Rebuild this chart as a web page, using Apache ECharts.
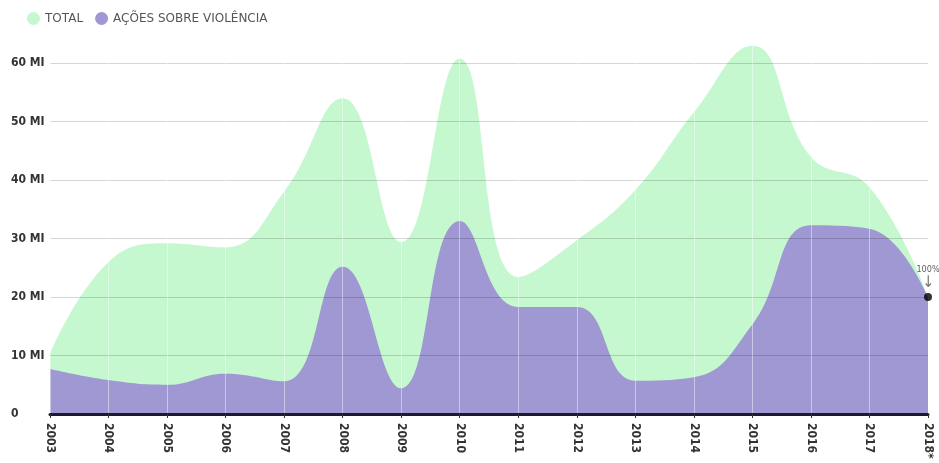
<!DOCTYPE html>
<html>
<head>
<meta charset="utf-8">
<script src="https://cdn.jsdelivr.net/npm/echarts@6/dist/echarts.min.js"></script>
<style>
  html, body { margin: 0; padding: 0; background: #fff; }
  #chart { width: 939px; height: 463px; }
</style>
</head>
<body>
<div id="chart"></div>
<script>
  // anos
  var years = ['2003', '2004', '2005', '2006', '2007', '2008', '2009', '2010',
    '2011', '2012', '2013', '2014', '2015', '2016', '2017', '2018*'];
  // valores em milhões
  var totalValues = [10.3, 26, 29.2, 28.5, 38, 54, 29.4, 60.8,
    23.4, 29.7, 38.3, 51.6, 63, 44, 38.8, 20];
  var violenciaValues = [7.7, 5.8, 5, 6.9, 5.6, 25.2, 4.4, 33,
    18.3, 18.3, 5.7, 6.3, 15.3, 32.3, 31.7, 20];
  var yTicks = [0, 10, 20, 30, 40, 50, 60];
  var highlight = ['2018*', 20, '100%'];

  var font = '"DejaVu Sans Condensed", "Liberation Sans Narrow", sans-serif';
  var myChart = echarts.init(document.getElementById('chart'));
  var option = {
    animation: false,
    legend: {
      left: 22,
      top: 7,
      itemWidth: 13,
      itemHeight: 13,
      itemGap: 12,
      icon: 'circle',
      textStyle: { fontFamily: '"DejaVu Sans", sans-serif', fontSize: 12, color: '#555' },
      data: ['TOTAL', 'AÇÕES SOBRE VIOLÊNCIA']
    },
    // grid 0: dados (até 65), grid 1: linhas e rótulos (0 a 60)
    grid: [
      { left: 50, right: 11, top: 34, bottom: 49 },
      { left: 50, right: 11, top: 63, bottom: 49 }
    ],
    xAxis: [
      {
        type: 'category',
        gridIndex: 0,
        boundaryGap: false,
        data: years,
        z: 5,
        axisLine: { lineStyle: { color: '#1c1a33', width: 3 } },
        axisTick: { show: true, length: 4, lineStyle: { color: '#333' } },
        axisLabel: {
          rotate: -90,
          margin: 9,
          fontFamily: font,
          fontWeight: 'bold',
          fontSize: 12,
          color: '#333'
        },
        splitLine: { show: true, lineStyle: { color: 'rgba(255,255,255,0.45)', width: 1 } }
      },
      {
        type: 'category',
        gridIndex: 1,
        boundaryGap: false,
        data: years,
        show: false
      }
    ],
    yAxis: [
      {
        type: 'value',
        gridIndex: 0,
        min: 0,
        max: 65,
        show: false,
        splitLine: { show: false }
      },
      {
        type: 'value',
        gridIndex: 1,
        min: yTicks[0],
        max: yTicks[yTicks.length - 1],
        interval: 10,
        z: 5,
        axisLine: { show: false },
        axisTick: { show: false },
        axisLabel: {
          align: 'left',
          margin: 39,
          fontFamily: font,
          fontWeight: 'bold',
          fontSize: 12,
          color: '#333',
          formatter: function (v) { return v === 0 ? '0' : v + ' MI'; }
        },
        splitLine: { lineStyle: { color: 'rgba(0,0,0,0.16)', width: 1 } }
      }
    ],
    series: [
      {
        name: 'TOTAL',
        type: 'line',
        data: totalValues,
        smooth: 0.45,
        symbol: 'none',
        color: '#c6f8cf',
        lineStyle: { width: 0 },
        areaStyle: { color: '#c6f8cf', opacity: 1 },
        z: 1
      },
      {
        name: 'AÇÕES SOBRE VIOLÊNCIA',
        type: 'line',
        data: violenciaValues,
        smooth: 0.45,
        symbol: 'none',
        color: '#9f98d2',
        lineStyle: { width: 0 },
        areaStyle: { color: '#9f98d2', opacity: 1 },
        z: 2
      },
      {
        name: 'ponto',
        type: 'scatter',
        data: [[highlight[0], highlight[1]]],
        symbolSize: 8,
        itemStyle: { color: '#000' },
        z: 6,
        label: {
          show: true,
          position: 'top',
          distance: 2,
          formatter: '{a|' + highlight[2] + '}\n{b|↓}',
          rich: {
            a: { fontFamily: font, fontSize: 9, color: '#333', lineHeight: 11 },
            b: { fontFamily: font, fontSize: 16, color: '#555', lineHeight: 16 }
          }
        }
      }
    ]
  };
  myChart.setOption(option);
</script>
</body>
</html>
